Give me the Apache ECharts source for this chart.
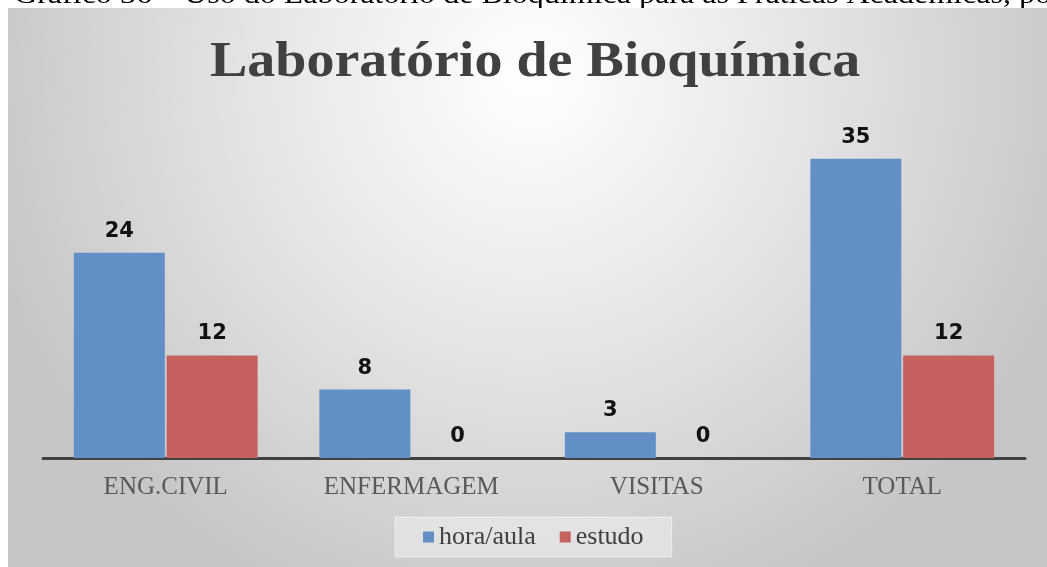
<!DOCTYPE html>
<html>
<head>
<meta charset="utf-8">
<script src="https://cdn.jsdelivr.net/npm/echarts@6/dist/echarts.min.js"></script>
<style>
  html, body { margin: 0; padding: 0; background: #fff; }
  #chart { width: 1047px; height: 567px; }
</style>
</head>
<body>
<div id="chart"></div>
<script>
// dados do gráfico
const categories = ['ENG.CIVIL', 'ENFERMAGEM', 'VISITAS', 'TOTAL']
const horaAula = [24, 8, 3, 35]
const estudo = [12, 0, 0, 12]
const seriesNames = ['hora/aula', 'estudo']

const serif = '"Liberation Serif", "Times New Roman", serif'

let chart = echarts.init(document.getElementById('chart'))

let labelStyle = {
  show: true,
  position: 'top',
  distance: 11,
  color: '#111',
  fontFamily: '"DejaVu Sans", sans-serif',
  fontWeight: 'bold',
  fontSize: 21
}

let option = {
  backgroundColor: '#fff',
  animation: false,
  graphic: [
    {
      // legenda do documento, cortada pelo painel
      type: 'text',
      z: -10,
      left: 14,
      top: -18,
      scaleX: 1.145,
      style: {
        text: 'Gráfico 36 – Uso do Laboratório de Bioquímica para as Práticas Acadêmicas, por',
        font: '28px ' + serif,
        fill: '#000'
      }
    },
    {
      type: 'rect',
      z: -5,
      shape: { x: 8, y: 8, width: 1045, height: 565 },
      style: {
        fill: {
          type: 'radial', x: 0.5, y: 0.12, r: 1.0,
          colorStops: [
            { offset: 0, color: '#ffffff' },
            { offset: 0.45, color: '#e7e7e7' },
            { offset: 1, color: '#c6c6c6' }
          ]
        }
      }
    },
    {
      type: 'text',
      z: 10,
      left: 210,
      top: 38,
      scaleX: 1.12,
      style: {
        text: 'Laboratório de Bioquímica',
        font: 'bold 50px ' + serif,
        fill: '#404040'
      }
    }
  ],
  legend: {
    data: seriesNames,
    bottom: 10,
    left: 395,
    itemWidth: 11,
    itemHeight: 11,
    itemGap: 24,
    padding: [7, 28],
    backgroundColor: 'rgba(240,240,240,0.55)',
    borderColor: 'rgba(255,255,255,0.5)',
    borderWidth: 1,
    icon: 'rect',
    textStyle: {
      fontFamily: serif,
      fontSize: 26,
      color: '#404040'
    }
  },
  grid: {
    left: 43,
    right: 22,
    top: 116,
    bottom: 109
  },
  xAxis: {
    type: 'category',
    data: categories,
    axisLine: { lineStyle: { color: '#404040', width: 3 } },
    axisTick: { show: false },
    axisLabel: {
      margin: 17,
      fontFamily: serif,
      fontSize: 25,
      color: '#595959'
    }
  },
  yAxis: {
    type: 'value',
    min: 0,
    max: 40,
    show: false,
    splitLine: { show: false }
  },
  series: [
    {
      name: seriesNames[0],
      type: 'bar',
      data: horaAula,
      barWidth: 91,
      barGap: '2%',
      itemStyle: { color: '#6290c6' },
      label: labelStyle
    },
    {
      name: seriesNames[1],
      type: 'bar',
      data: estudo,
      barWidth: 91,
      itemStyle: { color: '#c5615e' },
      label: labelStyle
    }
  ]
}

chart.setOption(option)
</script>
</body>
</html>
